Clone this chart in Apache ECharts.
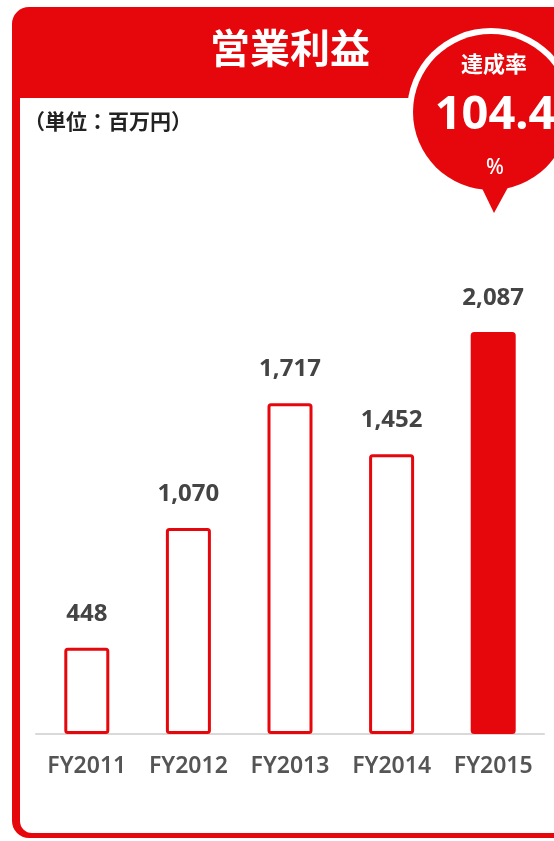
<!DOCTYPE html>
<html>
<head>
<meta charset="utf-8">
<script src="https://cdn.jsdelivr.net/npm/echarts@6/dist/echarts.min.js"></script>
<style>
html,body{margin:0;padding:0;background:#fff;}
#c{width:554px;height:841px;}
</style>
</head>
<body>
<div id="c"></div>
<script>
const categories = ['FY2011', 'FY2012', 'FY2013', 'FY2014', 'FY2015'];
const values = [448, 1070, 1717, 1452, 2087];
const titleText = '営業利益';
const unitText = '（単位：百万円）';
const rateLabel = '達成率';
const rateValue = '104.4';
const rateUnit = '%';

const RED = '#e6070c';
const FONT = '"Noto Sans", "Noto Sans CJK JP", sans-serif';
const JFONT = '"Noto Sans CJK JP", "Noto Sans", sans-serif';

function fmt(v) { return String(v).replace(/\B(?=(\d{3})+(?!\d))/g, ','); }

const chart = echarts.init(document.getElementById('c'));
const last = values.length - 1;

chart.setOption({
  animation: false,
  backgroundColor: '#fff',
  grid: { left: 36, right: 10, top: 252.5, bottom: 107, containLabel: false },
  xAxis: {
    type: 'category',
    data: categories,
    axisLine: { lineStyle: { color: '#d9d9d9', width: 2 } },
    axisTick: { show: false },
    axisLabel: { interval: 0, color: '#555', fontFamily: FONT, fontWeight: 600, fontSize: 23, margin: 21 }
  },
  yAxis: {
    type: 'value', min: 0, max: 2500, show: false,
    splitLine: { show: false }
  },
  graphic: [
    { type: 'rect', z: -10, shape: { x: 12, y: 7, width: 620, height: 831, r: [17, 0, 0, 17] }, style: { fill: RED } },
    { type: 'rect', z: -9, shape: { x: 20, y: 98, width: 620, height: 735, r: [0, 0, 0, 12] }, style: { fill: '#fff' } },
    { type: 'text', z: 10, x: 290, y: 48, style: { text: titleText, fill: '#fff', font: 'bold 40px ' + JFONT, textAlign: 'center', textVerticalAlign: 'middle' } },
    { type: 'text', z: 10, x: 24, y: 121, style: { text: unitText, fill: '#222', font: 'bold 21px ' + JFONT, textAlign: 'left', textVerticalAlign: 'middle' } },
    { type: 'circle', z: 20, shape: { cx: 491, cy: 112, r: 84 }, style: { fill: '#fff' } },
    { type: 'polygon', z: 21, shape: { points: [[478, 180], [512, 180], [494, 213]] }, style: { fill: RED } },
    { type: 'circle', z: 21, shape: { cx: 491, cy: 112, r: 78 }, style: { fill: RED } },
    { type: 'text', z: 22, x: 494, y: 64, style: { text: rateLabel, fill: '#fff', font: 'bold 22px ' + JFONT, textAlign: 'center', textVerticalAlign: 'middle' } },
    { type: 'text', z: 22, x: 495, y: 116, style: { text: rateValue, fill: '#fff', font: 'bold 47px ' + FONT, textAlign: 'center', textVerticalAlign: 'middle' } },
    { type: 'text', z: 22, x: 495, y: 168, style: { text: rateUnit, fill: '#fff', font: '500 21px ' + FONT, textAlign: 'center', textVerticalAlign: 'middle' } }
  ],
  series: [{
    type: 'bar',
    barWidth: 45,
    data: values.map((v, i) => ({
      value: v,
      itemStyle: i === last
        ? { color: RED, borderColor: RED, borderWidth: 3, borderRadius: 2 }
        : { color: '#fff', borderColor: RED, borderWidth: 3, borderRadius: 2 }
    })),
    label: {
      show: true, position: 'top', distance: 22,
      color: '#444', fontFamily: FONT, fontWeight: 'bold', fontSize: 24,
      formatter: p => fmt(p.value)
    }
  }]
});
</script>
</body>
</html>
